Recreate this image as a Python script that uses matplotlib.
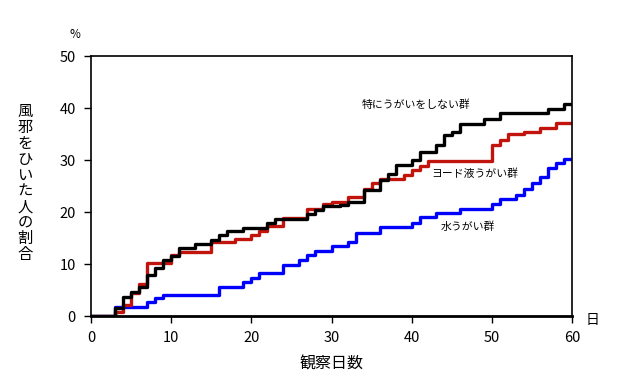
import matplotlib
matplotlib.use('Agg')
import matplotlib.pyplot as plt

plt.rcParams['font.family'] = ['Noto Sans CJK JP', 'DejaVu Sans']

# step data (day, % at that day)
none_days = [0, 3, 4, 5, 6, 7, 8, 9, 10, 11, 13, 15, 16, 17, 19, 22, 23, 27, 28, 29, 31,
             32, 34, 36, 37, 38, 40, 41, 43, 44, 45, 46, 49, 51, 57, 59, 60]
none_vals = [0, 1.6, 3.7, 4.7, 5.6, 7.9, 9.2, 10.8, 11.5, 13.0, 13.8, 14.7, 15.6, 16.3, 17.0,
             17.8, 18.6, 19.6, 20.4, 21.2, 21.3, 22.0, 24.2, 26.2, 27.4, 29.0, 30.0, 31.6,
             32.9, 34.8, 35.4, 37.0, 37.8, 39.0, 39.8, 40.7, 40.7]

iodine_days = [0, 3, 4, 5, 6, 7, 10, 11, 15, 18, 20, 21, 22, 24, 27, 29, 30, 32, 34, 35,
               36, 39, 40, 41, 42, 50, 51, 52, 54, 56, 58, 60]
iodine_vals = [0, 0.8, 2.2, 4.4, 6.1, 10.1, 11.7, 12.4, 14.2, 14.8, 15.6, 16.3, 17.3, 18.8,
               20.6, 21.5, 22.0, 22.9, 24.5, 25.5, 26.3, 27.1, 28.1, 28.8, 29.8, 32.9, 33.8,
               35.0, 35.4, 36.2, 37.2, 37.2]

water_days = [0, 3, 7, 8, 9, 16, 19, 20, 21, 24, 26, 27, 28, 30, 32, 33, 36, 40, 41, 43,
              46, 50, 51, 53, 54, 55, 56, 57, 58, 59, 60]
water_vals = [0, 1.7, 2.6, 3.4, 4.0, 5.6, 6.5, 7.4, 8.2, 9.9, 10.8, 11.7, 12.5, 13.4, 14.2,
              15.9, 17.2, 17.9, 19.0, 19.9, 20.5, 21.5, 22.5, 23.3, 24.4, 25.5, 26.8, 28.4,
              29.4, 30.2, 30.2]

x_ticks = [0, 10, 20, 30, 40, 50, 60]
y_ticks = [0, 10, 20, 30, 40, 50]

fig = plt.figure(figsize=(6.2, 3.86), dpi=100)
ax = fig.add_axes([0.1468, 0.1813, 0.7758, 0.6736])

ax.plot(water_days, water_vals, drawstyle='steps-post', color='#0000ff', lw=2.4)
ax.plot(iodine_days, iodine_vals, drawstyle='steps-post', color='#c0140c', lw=2.4)
ax.plot(none_days, none_vals, drawstyle='steps-post', color='#000000', lw=2.4)

ax.set_xlim(0, 60)
ax.set_ylim(0, 50)
ax.set_xticks(x_ticks)
ax.set_yticks(y_ticks)
ax.tick_params(direction='out', length=5, width=1, labelsize=10.5, pad=6)
for s in ax.spines.values():
    s.set_linewidth(1.2)
ax.spines['bottom'].set_linewidth(2)

ax.text(62.5, -0.8, '日', fontsize=10, ha='center', va='center', clip_on=False)
ax.text(-2, 54.2, '%', fontsize=8.5, ha='center', va='center', clip_on=False)
ax.text(30, -9.3, '観察日数', fontsize=11.5, ha='center', va='center', clip_on=False)
fig.text(0.04, 0.526, '\n'.join('風邪をひいた人の割合'), fontsize=11, ha='center', va='center',
         linespacing=0.92)

ax.text(33.8, 40.6, '特にうがいをしない群', fontsize=7.8, ha='left', va='center')
ax.text(42.5, 27.3, 'ヨード液うがい群', fontsize=7.8, ha='left', va='center')
ax.text(43.6, 17.1, '水うがい群', fontsize=7.8, ha='left', va='center')

fig.savefig('out.png', dpi=100)
